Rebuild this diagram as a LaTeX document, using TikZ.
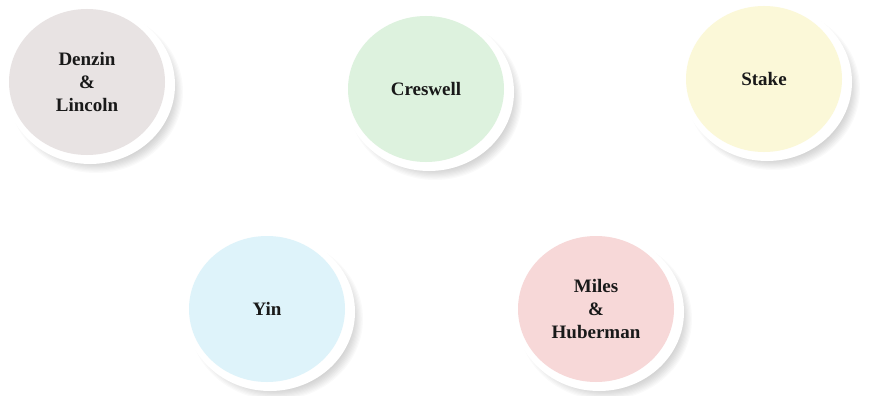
\documentclass[tikz,border=0pt]{standalone}
\usepackage{fontspec}
\setmainfont{Liberation Serif}
\usetikzlibrary{shapes.geometric}
\definecolor{cDenzin}{HTML}{E8E3E3}
\definecolor{cCreswell}{HTML}{DDF2DE}
\definecolor{cStake}{HTML}{FBF8D8}
\definecolor{cYin}{HTML}{DEF3FA}
\definecolor{cMiles}{HTML}{F7D8D8}
\tikzset{
  rim/.style={ellipse, fill=white, minimum width=170pt, minimum height=158pt, inner sep=0pt},
  disc/.style={ellipse, fill=#1, minimum width=156pt, minimum height=146pt, inner sep=0pt,
    align=center, font=\fontsize{19}{23}\selectfont\bfseries, text=black!90},
}
\newcommand\mybubble[5]{%
  \foreach \k in {0,...,14}{
    \fill[black, opacity=0.018] ({#2+6},{#3+7}) ellipse ({87-\k*1.2} and {81-\k*1.2});
  }
  \node[rim] (#1rim) at (#2,#3) {};
  \node[disc=#4] (#1) at ({#2-3},{#3-3}) {#5};
}
\begin{document}
\begin{tikzpicture}[x=1pt,y=-1pt]
\useasboundingbox (0,0) rectangle (873,396);
\mybubble{denzin}{90}{85}{cDenzin}{Denzin\\\&\\Lincoln}
\mybubble{creswell}{429}{92}{cCreswell}{Creswell}
\mybubble{stake}{767}{82}{cStake}{Stake}
\mybubble{yin}{270}{312}{cYin}{Yin}
\mybubble{miles}{599}{312}{cMiles}{Miles\\\&\\Huberman}
\end{tikzpicture}
\end{document}
